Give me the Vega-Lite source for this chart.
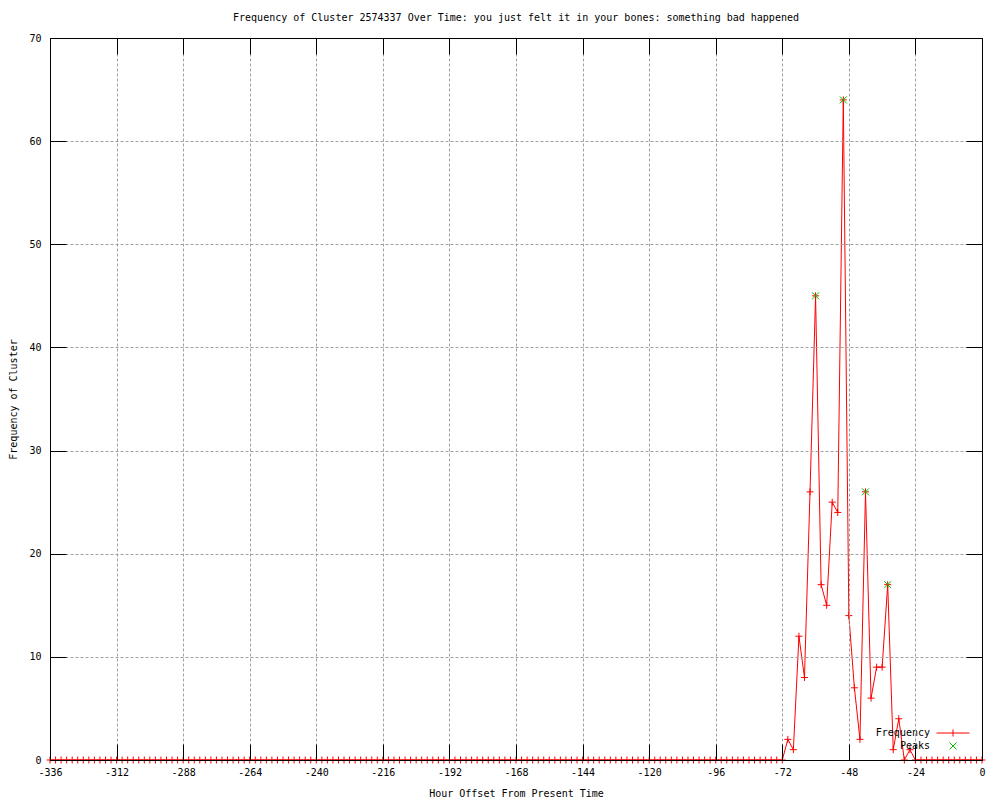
{
  "$schema": "https://vega.github.io/schema/vega-lite/v6.json",
  "width": 932,
  "height": 722,
  "autosize": "none",
  "padding": {"left": 50, "top": 38, "right": 18, "bottom": 40},
  "background": "white",
  "title": {
    "text": "Frequency of Cluster 2574337 Over Time: you just felt it in your bones: something bad happened",
    "font": "DejaVu Sans Mono",
    "fontSize": 10,
    "fontWeight": "normal",
    "color": "black",
    "anchor": "middle",
    "offset": 10
  },
  "config": {
    "view": {"stroke": "black", "strokeWidth": 1},
    "axis": {
      "labelFont": "DejaVu Sans Mono",
      "labelFontSize": 10,
      "labelColor": "black",
      "titleFont": "DejaVu Sans Mono",
      "titleFontSize": 10,
      "titleFontWeight": "normal",
      "titleColor": "black",
      "domainColor": "black",
      "tickColor": "black",
      "gridColor": "#a0a0a0",
      "gridDash": [3, 2],
      "gridOpacity": 1,
      "gridWidth": 1
    }
  },
  "data": {
    "values": [
      {"s":"Frequency","h":-336,"f":0},{"s":"Frequency","h":-334,"f":0},{"s":"Frequency","h":-332,"f":0},{"s":"Frequency","h":-330,"f":0},
      {"s":"Frequency","h":-328,"f":0},{"s":"Frequency","h":-326,"f":0},{"s":"Frequency","h":-324,"f":0},{"s":"Frequency","h":-322,"f":0},
      {"s":"Frequency","h":-320,"f":0},{"s":"Frequency","h":-318,"f":0},{"s":"Frequency","h":-316,"f":0},{"s":"Frequency","h":-314,"f":0},
      {"s":"Frequency","h":-312,"f":0},{"s":"Frequency","h":-310,"f":0},{"s":"Frequency","h":-308,"f":0},{"s":"Frequency","h":-306,"f":0},
      {"s":"Frequency","h":-304,"f":0},{"s":"Frequency","h":-302,"f":0},{"s":"Frequency","h":-300,"f":0},{"s":"Frequency","h":-298,"f":0},
      {"s":"Frequency","h":-296,"f":0},{"s":"Frequency","h":-294,"f":0},{"s":"Frequency","h":-292,"f":0},{"s":"Frequency","h":-290,"f":0},
      {"s":"Frequency","h":-288,"f":0},{"s":"Frequency","h":-286,"f":0},{"s":"Frequency","h":-284,"f":0},{"s":"Frequency","h":-282,"f":0},
      {"s":"Frequency","h":-280,"f":0},{"s":"Frequency","h":-278,"f":0},{"s":"Frequency","h":-276,"f":0},{"s":"Frequency","h":-274,"f":0},
      {"s":"Frequency","h":-272,"f":0},{"s":"Frequency","h":-270,"f":0},{"s":"Frequency","h":-268,"f":0},{"s":"Frequency","h":-266,"f":0},
      {"s":"Frequency","h":-264,"f":0},{"s":"Frequency","h":-262,"f":0},{"s":"Frequency","h":-260,"f":0},{"s":"Frequency","h":-258,"f":0},
      {"s":"Frequency","h":-256,"f":0},{"s":"Frequency","h":-254,"f":0},{"s":"Frequency","h":-252,"f":0},{"s":"Frequency","h":-250,"f":0},
      {"s":"Frequency","h":-248,"f":0},{"s":"Frequency","h":-246,"f":0},{"s":"Frequency","h":-244,"f":0},{"s":"Frequency","h":-242,"f":0},
      {"s":"Frequency","h":-240,"f":0},{"s":"Frequency","h":-238,"f":0},{"s":"Frequency","h":-236,"f":0},{"s":"Frequency","h":-234,"f":0},
      {"s":"Frequency","h":-232,"f":0},{"s":"Frequency","h":-230,"f":0},{"s":"Frequency","h":-228,"f":0},{"s":"Frequency","h":-226,"f":0},
      {"s":"Frequency","h":-224,"f":0},{"s":"Frequency","h":-222,"f":0},{"s":"Frequency","h":-220,"f":0},{"s":"Frequency","h":-218,"f":0},
      {"s":"Frequency","h":-216,"f":0},{"s":"Frequency","h":-214,"f":0},{"s":"Frequency","h":-212,"f":0},{"s":"Frequency","h":-210,"f":0},
      {"s":"Frequency","h":-208,"f":0},{"s":"Frequency","h":-206,"f":0},{"s":"Frequency","h":-204,"f":0},{"s":"Frequency","h":-202,"f":0},
      {"s":"Frequency","h":-200,"f":0},{"s":"Frequency","h":-198,"f":0},{"s":"Frequency","h":-196,"f":0},{"s":"Frequency","h":-194,"f":0},
      {"s":"Frequency","h":-192,"f":0},{"s":"Frequency","h":-190,"f":0},{"s":"Frequency","h":-188,"f":0},{"s":"Frequency","h":-186,"f":0},
      {"s":"Frequency","h":-184,"f":0},{"s":"Frequency","h":-182,"f":0},{"s":"Frequency","h":-180,"f":0},{"s":"Frequency","h":-178,"f":0},
      {"s":"Frequency","h":-176,"f":0},{"s":"Frequency","h":-174,"f":0},{"s":"Frequency","h":-172,"f":0},{"s":"Frequency","h":-170,"f":0},
      {"s":"Frequency","h":-168,"f":0},{"s":"Frequency","h":-166,"f":0},{"s":"Frequency","h":-164,"f":0},{"s":"Frequency","h":-162,"f":0},
      {"s":"Frequency","h":-160,"f":0},{"s":"Frequency","h":-158,"f":0},{"s":"Frequency","h":-156,"f":0},{"s":"Frequency","h":-154,"f":0},
      {"s":"Frequency","h":-152,"f":0},{"s":"Frequency","h":-150,"f":0},{"s":"Frequency","h":-148,"f":0},{"s":"Frequency","h":-146,"f":0},
      {"s":"Frequency","h":-144,"f":0},{"s":"Frequency","h":-142,"f":0},{"s":"Frequency","h":-140,"f":0},{"s":"Frequency","h":-138,"f":0},
      {"s":"Frequency","h":-136,"f":0},{"s":"Frequency","h":-134,"f":0},{"s":"Frequency","h":-132,"f":0},{"s":"Frequency","h":-130,"f":0},
      {"s":"Frequency","h":-128,"f":0},{"s":"Frequency","h":-126,"f":0},{"s":"Frequency","h":-124,"f":0},{"s":"Frequency","h":-122,"f":0},
      {"s":"Frequency","h":-120,"f":0},{"s":"Frequency","h":-118,"f":0},{"s":"Frequency","h":-116,"f":0},{"s":"Frequency","h":-114,"f":0},
      {"s":"Frequency","h":-112,"f":0},{"s":"Frequency","h":-110,"f":0},{"s":"Frequency","h":-108,"f":0},{"s":"Frequency","h":-106,"f":0},
      {"s":"Frequency","h":-104,"f":0},{"s":"Frequency","h":-102,"f":0},{"s":"Frequency","h":-100,"f":0},{"s":"Frequency","h":-98,"f":0},
      {"s":"Frequency","h":-96,"f":0},{"s":"Frequency","h":-94,"f":0},{"s":"Frequency","h":-92,"f":0},{"s":"Frequency","h":-90,"f":0},
      {"s":"Frequency","h":-88,"f":0},{"s":"Frequency","h":-86,"f":0},{"s":"Frequency","h":-84,"f":0},{"s":"Frequency","h":-82,"f":0},
      {"s":"Frequency","h":-80,"f":0},{"s":"Frequency","h":-78,"f":0},{"s":"Frequency","h":-76,"f":0},{"s":"Frequency","h":-74,"f":0},
      {"s":"Frequency","h":-72,"f":0},{"s":"Frequency","h":-70,"f":2},{"s":"Frequency","h":-68,"f":1},{"s":"Frequency","h":-66,"f":12},
      {"s":"Frequency","h":-64,"f":8},{"s":"Frequency","h":-62,"f":26},{"s":"Frequency","h":-60,"f":45},{"s":"Frequency","h":-58,"f":17},
      {"s":"Frequency","h":-56,"f":15},{"s":"Frequency","h":-54,"f":25},{"s":"Frequency","h":-52,"f":24},{"s":"Frequency","h":-50,"f":64},
      {"s":"Frequency","h":-48,"f":14},{"s":"Frequency","h":-46,"f":7},{"s":"Frequency","h":-44,"f":2},{"s":"Frequency","h":-42,"f":26},
      {"s":"Frequency","h":-40,"f":6},{"s":"Frequency","h":-38,"f":9},{"s":"Frequency","h":-36,"f":9},{"s":"Frequency","h":-34,"f":17},
      {"s":"Frequency","h":-32,"f":1},{"s":"Frequency","h":-30,"f":4},{"s":"Frequency","h":-28,"f":0},{"s":"Frequency","h":-26,"f":1},
      {"s":"Frequency","h":-24,"f":0},{"s":"Frequency","h":-22,"f":0},{"s":"Frequency","h":-20,"f":0},{"s":"Frequency","h":-18,"f":0},
      {"s":"Frequency","h":-16,"f":0},{"s":"Frequency","h":-14,"f":0},{"s":"Frequency","h":-12,"f":0},{"s":"Frequency","h":-10,"f":0},
      {"s":"Frequency","h":-8,"f":0},{"s":"Frequency","h":-6,"f":0},{"s":"Frequency","h":-4,"f":0},{"s":"Frequency","h":-2,"f":0},
      {"s":"Frequency","h":0,"f":0},
      {"s":"Peaks","h":-60,"f":45},{"s":"Peaks","h":-50,"f":64},{"s":"Peaks","h":-42,"f":26},{"s":"Peaks","h":-34,"f":17}
    ]
  },
  "layer": [
    {
      "transform": [{"filter": "datum.s === 'Frequency'"}],
      "mark": {"type": "line", "color": "#ff0000", "strokeWidth": 1, "interpolate": "linear"},
      "encoding": {
        "x": {
          "field": "h", "type": "quantitative",
          "scale": {"domain": [-336, 0], "nice": false, "zero": false},
          "axis": {
            "orient": "bottom",
            "values": [-336, -312, -288, -264, -240, -216, -192, -168, -144, -120, -96, -72, -48, -24, 0],
            "labelExpr": "'' + datum.value",
            "grid": true,
            "tickSize": -16,
            "labelPadding": 23,
            "labelFlush": false,
            "labelOverlap": false,
            "title": "Hour Offset From Present Time",
            "titlePadding": 11,
            "zindex": 1
          }
        },
        "y": {
          "field": "f", "type": "quantitative",
          "scale": {"domain": [0, 70], "nice": false},
          "axis": {
            "orient": "left",
            "values": [0, 10, 20, 30, 40, 50, 60, 70],
            "grid": true,
            "tickSize": -16,
            "labelPadding": 25,
            "labelFlush": false,
            "labelOverlap": false,
            "title": "Frequency of Cluster",
            "titlePadding": 10,
            "zindex": 1
          }
        }
      }
    },
    {
      "transform": [{"filter": "datum.s === 'Frequency'"}],
      "mark": {"type": "point", "filled": false, "strokeWidth": 1, "opacity": 1, "size": 49, "color": "#ff0000", "shape": "M-1,0L1,0M0,-1L0,1"},
      "encoding": {
        "x": {
          "field": "h", "type": "quantitative",
          "axis": {"orient": "top", "values": [-336, -312, -288, -264, -240, -216, -192, -168, -144, -120, -96, -72, -48, -24, 0], "labels": false, "grid": false, "tickSize": -16, "title": null, "zindex": 1}
        },
        "y": {
          "field": "f", "type": "quantitative",
          "axis": {"orient": "right", "values": [0, 10, 20, 30, 40, 50, 60, 70], "labels": false, "grid": false, "tickSize": -16, "title": null, "zindex": 1}
        }
      }
    },
    {
      "transform": [{"filter": "datum.s === 'Peaks'"}],
      "mark": {"type": "point", "filled": false, "strokeWidth": 1, "opacity": 1, "size": 49, "color": "#00c000", "shape": "M-1,-1L1,1M-1,1L1,-1"},
      "encoding": {
        "x": {"field": "h", "type": "quantitative", "axis": null},
        "y": {"field": "f", "type": "quantitative", "axis": null}
      }
    },
    {
      "transform": [{"filter": "false"}],
      "mark": {"type": "point", "filled": false, "strokeWidth": 1, "opacity": 1},
      "encoding": {
        "x": {"field": "h", "type": "quantitative", "axis": null},
        "y": {"field": "f", "type": "quantitative", "axis": null},
        "color": {
          "field": "s", "type": "nominal",
          "scale": {"domain": ["Frequency", "Peaks"], "range": ["#ff0000", "#00c000"]},
          "legend": {
            "orient": "none",
            "legendX": 897.5,
            "legendY": 689.5,
            "title": null,
            "padding": 0,
            "labelFont": "DejaVu Sans Mono",
            "labelFontSize": 10,
            "labelColor": "black",
            "labelAlign": "right",
            "labelOffset": -28.5,
            "labelLimit": 0,
            "rowPadding": 2,
            "symbolSize": 100,
            "symbolStrokeWidth": 1
          }
        },
        "shape": {
          "field": "s", "type": "nominal",
          "scale": {"domain": ["Frequency", "Peaks"], "range": ["M-3.3,0L3.3,0M0,-0.7L0,0.7", "M-0.7,-0.7L0.7,0.7M-0.7,0.7L0.7,-0.7"]}
        }
      }
    }
  ],
  "resolve": {"axis": {"x": "independent", "y": "independent"}}
}
